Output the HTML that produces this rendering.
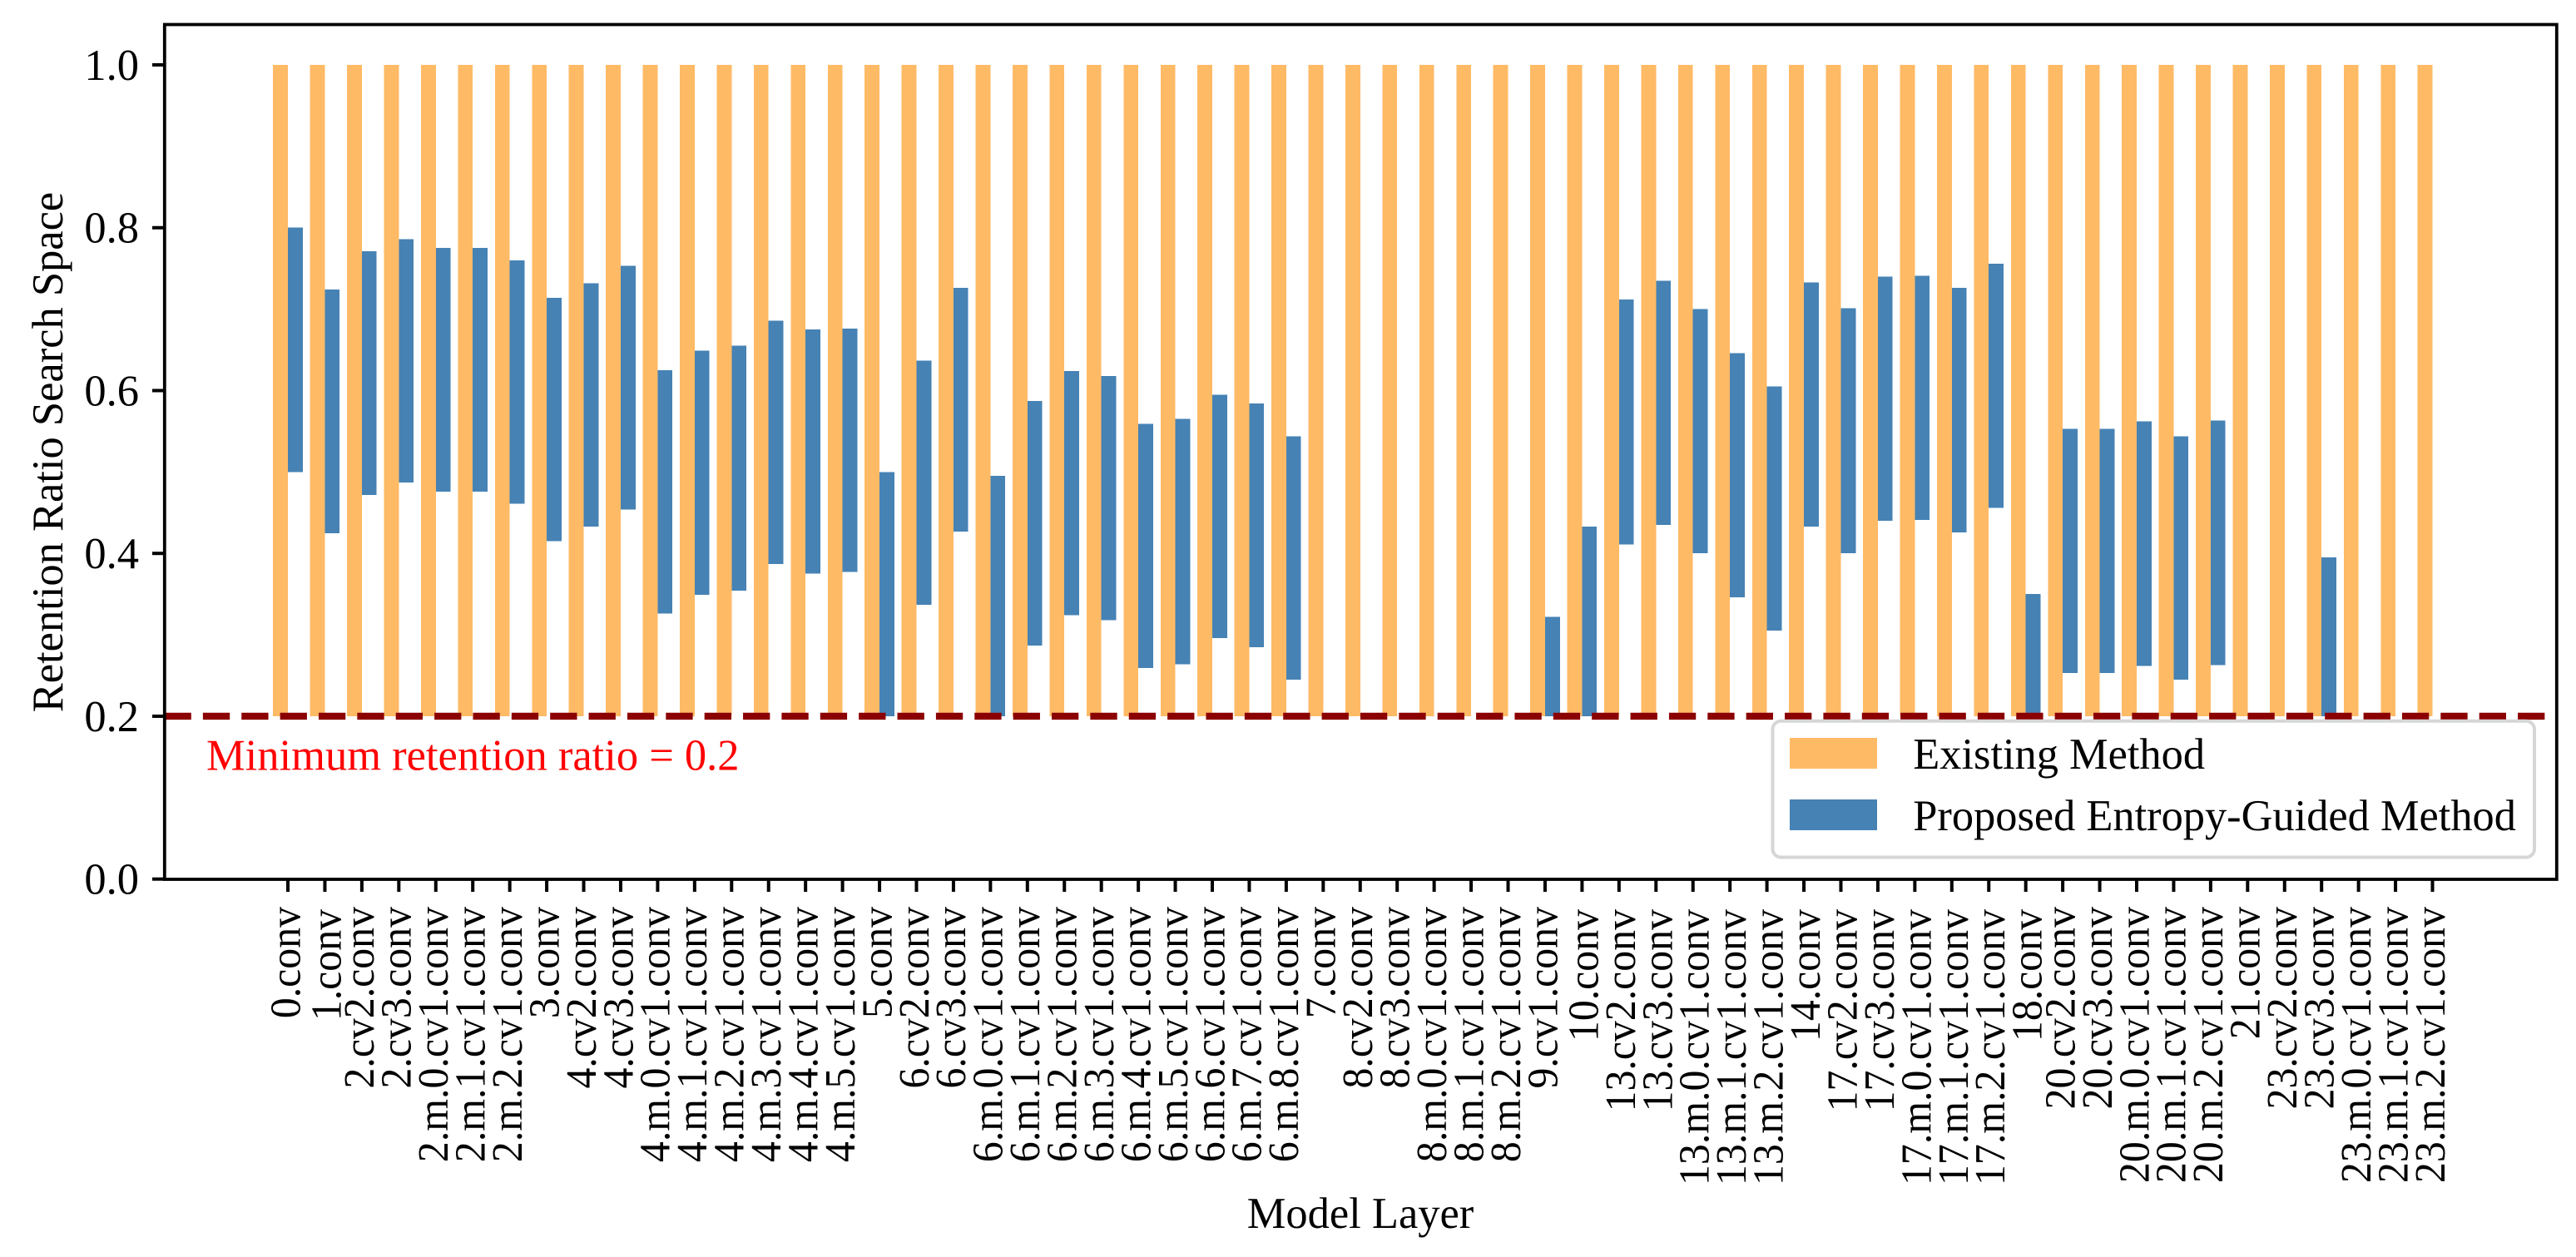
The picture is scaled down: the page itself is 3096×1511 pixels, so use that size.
<!DOCTYPE html>
<html lang="en">
<head>
<meta charset="utf-8">
<title>Retention Ratio Search Space</title>
<style>
html,body{margin:0;padding:0;background:#fff;width:3096px;height:1511px;overflow:hidden}
svg{display:block}
text{font-family:"Liberation Serif","Times New Roman",serif;fill:#000}
</style>
</head>
<body>
<svg id="chart" xmlns="http://www.w3.org/2000/svg" width="3096" height="1511" viewBox="0 0 3096 1511">
  <rect x="0" y="0" width="3096" height="1511" fill="#ffffff"/>
  <g id="bars" shape-rendering="crispEdges"></g>
  <g id="threshold"></g>
  <rect x="197.8" y="29.5" width="2875" height="1027.5" fill="none" stroke="#000" stroke-width="3.8"/>
  <g id="y-axis"></g>
  <g id="x-axis"></g>
  <text transform="translate(75,543.5) rotate(-90)" font-size="52.5" text-anchor="middle">Retention Ratio Search Space</text>
  <text x="1635" y="1476" font-size="52.5" text-anchor="middle">Model Layer</text>
  <text x="248" y="925.5" font-size="52.5" style="fill:#ff0000">Minimum retention ratio = 0.2</text>
  <g>
    <rect x="2130.5" y="866.7" width="915.5" height="163.8" rx="10" ry="10" fill="#ffffff" stroke="#d6d6d6" stroke-width="4"/>
    <rect x="2151" y="887" width="105" height="37" fill="#ffba66"/>
    <text x="2299.3" y="924" font-size="52.4">Existing Method</text>
    <rect x="2151" y="961" width="105" height="37" fill="#4682b4"/>
    <text x="2299.3" y="998" font-size="52.4">Proposed Entropy-Guided Method</text>
  </g>
</svg>
<script>
const categories = ["0.conv","1.conv","2.cv2.conv","2.cv3.conv","2.m.0.cv1.conv","2.m.1.cv1.conv","2.m.2.cv1.conv","3.conv","4.cv2.conv","4.cv3.conv","4.m.0.cv1.conv","4.m.1.cv1.conv","4.m.2.cv1.conv","4.m.3.cv1.conv","4.m.4.cv1.conv","4.m.5.cv1.conv","5.conv","6.cv2.conv","6.cv3.conv","6.m.0.cv1.conv","6.m.1.cv1.conv","6.m.2.cv1.conv","6.m.3.cv1.conv","6.m.4.cv1.conv","6.m.5.cv1.conv","6.m.6.cv1.conv","6.m.7.cv1.conv","6.m.8.cv1.conv","7.conv","8.cv2.conv","8.cv3.conv","8.m.0.cv1.conv","8.m.1.cv1.conv","8.m.2.cv1.conv","9.cv1.conv","10.conv","13.cv2.conv","13.cv3.conv","13.m.0.cv1.conv","13.m.1.cv1.conv","13.m.2.cv1.conv","14.conv","17.cv2.conv","17.cv3.conv","17.m.0.cv1.conv","17.m.1.cv1.conv","17.m.2.cv1.conv","18.conv","20.cv2.conv","20.cv3.conv","20.m.0.cv1.conv","20.m.1.cv1.conv","20.m.2.cv1.conv","21.conv","23.cv2.conv","23.cv3.conv","23.m.0.cv1.conv","23.m.1.cv1.conv","23.m.2.cv1.conv"];
const existingLow = [0.2,0.2,0.2,0.2,0.2,0.2,0.2,0.2,0.2,0.2,0.2,0.2,0.2,0.2,0.2,0.2,0.2,0.2,0.2,0.2,0.2,0.2,0.2,0.2,0.2,0.2,0.2,0.2,0.2,0.2,0.2,0.2,0.2,0.2,0.2,0.2,0.2,0.2,0.2,0.2,0.2,0.2,0.2,0.2,0.2,0.2,0.2,0.2,0.2,0.2,0.2,0.2,0.2,0.2,0.2,0.2,0.2,0.2,0.2];
const existingHigh = [1,1,1,1,1,1,1,1,1,1,1,1,1,1,1,1,1,1,1,1,1,1,1,1,1,1,1,1,1,1,1,1,1,1,1,1,1,1,1,1,1,1,1,1,1,1,1,1,1,1,1,1,1,1,1,1,1,1,1];
const proposedLow = [0.5,0.425,0.472,0.487,0.476,0.476,0.461,0.415,0.433,0.454,0.326,0.349,0.354,0.387,0.375,0.377,0.2,0.337,0.427,0.2,0.287,0.324,0.318,0.259,0.264,0.296,0.285,0.245,1,1,1,1,1,1,0.2,0.2,0.411,0.435,0.4,0.346,0.305,0.433,0.4,0.44,0.441,0.426,0.456,0.2,0.253,0.253,0.262,0.245,0.263,1,1,0.2,1,1,1];
const proposedHigh = [0.8,0.724,0.771,0.786,0.775,0.775,0.76,0.714,0.732,0.753,0.625,0.649,0.655,0.686,0.675,0.676,0.5,0.637,0.726,0.495,0.587,0.624,0.618,0.559,0.565,0.595,0.584,0.544,1,1,1,1,1,1,0.322,0.433,0.712,0.735,0.7,0.646,0.605,0.733,0.701,0.74,0.741,0.726,0.756,0.35,0.553,0.553,0.562,0.544,0.563,1,1,0.395,1,1,1];
const yTicks = [0,0.2,0.4,0.6,0.8,1];
const thresholdValue = [0.2];

const NS = 'http://www.w3.org/2000/svg';
const xScale = i => 346 + i * 44.44;
const yScale = v => 1056.7 - 978.7 * v;
const barWidth = 17.8;
const barsG = document.getElementById('bars');
const yG = document.getElementById('y-axis');
const xG = document.getElementById('x-axis');
const thG = document.getElementById('threshold');

function make(tag, attrs, parent) {
  const el = document.createElementNS(NS, tag);
  for (const k in attrs) el.setAttribute(k, attrs[k]);
  parent.appendChild(el);
  return el;
}

categories.forEach((label, i) => {
  const cx = xScale(i);
  const orange = make('rect', {x: cx - barWidth, y: yScale(existingHigh[i]), width: barWidth, height: yScale(existingLow[i]) - yScale(existingHigh[i]), fill: '#ffba66'}, barsG);
  
  
  if (proposedHigh[i] > proposedLow[i]) {
    const blue = make('rect', {x: cx, y: yScale(proposedHigh[i]), width: barWidth, height: yScale(proposedLow[i]) - yScale(proposedHigh[i]), fill: '#4682b4'}, barsG);
    
    
  }
  const tick = make('rect', {x: cx - 2, y: 1057, width: 4, height: 15, fill: '#000'}, xG);
  
  
  const startsOne = label[0] === '1';
  const bx = cx + (startsOne ? 19 : 14.3);
  const by = startsOne ? 1093 : 1090;
  const t = make('text', {'font-size': 52, 'text-anchor': 'end', transform: 'translate(' + bx + ',' + by + ') rotate(-90) scale(0.958,1)'}, xG);
  
  
  t.textContent = label;
});

yTicks.forEach(v => {
  const y = yScale(v);
  const tick = make('rect', {x: 183, y: y - 2, width: 15, height: 4, fill: '#000'}, yG);
  
  
  const t = make('text', {x: 167, y: y + 18, 'font-size': 52.5, 'text-anchor': 'end'}, yG);
  
  
  t.textContent = v.toFixed(1);
});

const thresholdLine = make('line', {x1: 197.5, x2: 3072, y1: yScale(thresholdValue[0]), y2: yScale(thresholdValue[0]), stroke: '#8b0000', 'stroke-width': 8.4, 'stroke-dasharray': '32.3 14.07'}, thG);


</script>
</body>
</html>
